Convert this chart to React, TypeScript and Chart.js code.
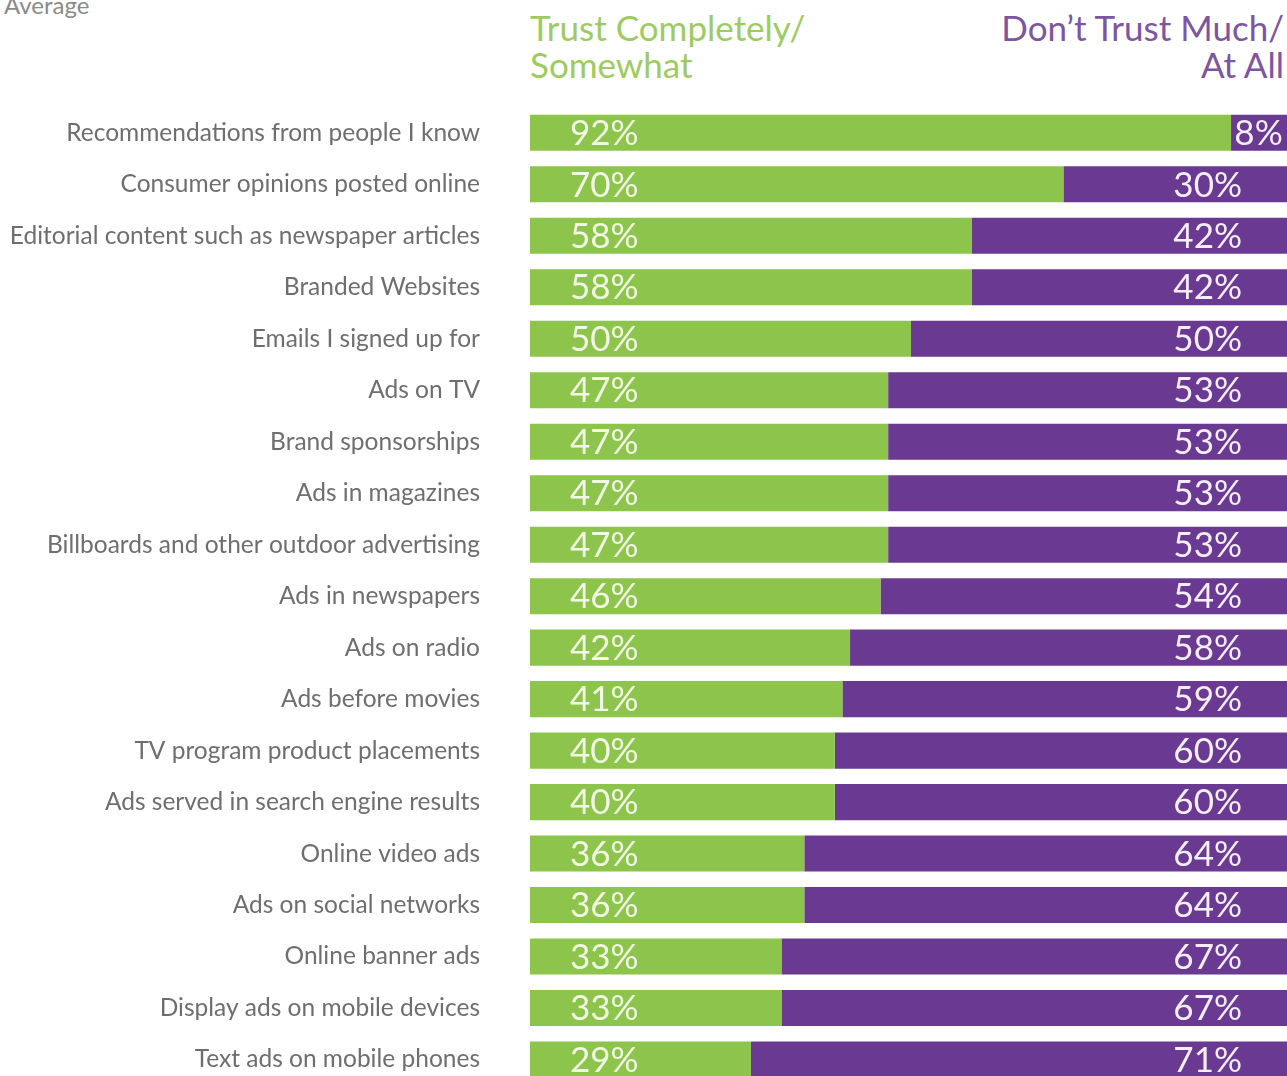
import React, { useEffect, useRef } from "react";
import { Chart, registerables } from "chart.js";

Chart.register(...registerables);

const categories = [
  "Recommendations from people I know",
  "Consumer opinions posted online",
  "Editorial content such as newspaper articles",
  "Branded Websites",
  "Emails I signed up for",
  "Ads on TV",
  "Brand sponsorships",
  "Ads in magazines",
  "Billboards and other outdoor advertising",
  "Ads in newspapers",
  "Ads on radio",
  "Ads before movies",
  "TV program product placements",
  "Ads served in search engine results",
  "Online video ads",
  "Ads on social networks",
  "Online banner ads",
  "Display ads on mobile devices",
  "Text ads on mobile phones",
];

const trustValues = [92, 70, 58, 58, 50, 47, 47, 47, 47, 46, 42, 41, 40, 40, 36, 36, 33, 33, 29];
const distrustValues = [8, 30, 42, 42, 50, 53, 53, 53, 53, 54, 58, 59, 60, 60, 64, 64, 67, 67, 71];

const seriesNames = ["Trust Completely/ Somewhat", "Don\u2019t Trust Much/ At All"];

const GREEN = "#8DC44B";
const PURPLE = "#6A3A92";
const FONT = "Lato, 'Open Sans', sans-serif";

const CANVAS_W = 1292;
const CANVAS_H = 1150;
const LEFT = 530;
const TOP = 107;

const valueLabels = {
  id: "valueLabels",
  afterDatasetsDraw(chart: any) {
    const ctx = chart.ctx;
    ctx.save();
    ctx.font = `400 35px ${FONT}`;
    ctx.fillStyle = "#F2F9E4";
    ctx.textBaseline = "middle";
    chart.getDatasetMeta(0).data.forEach((bar: any, i: number) => {
      ctx.textAlign = "left";
      ctx.fillText(`${trustValues[i]}%`, bar.base + 40, bar.y + 1);
    });
    ctx.fillStyle = "#F4EEF8";
    chart.getDatasetMeta(1).data.forEach((bar: any, i: number) => {
      const txt = `${distrustValues[i]}%`;
      const w = bar.x - bar.base;
      const tw = ctx.measureText(txt).width;
      if (w < tw + 60) {
        ctx.textAlign = "center";
        ctx.fillText(txt, (bar.x + bar.base) / 2 - 3, bar.y + 1);
      } else {
        ctx.textAlign = "right";
        ctx.fillText(txt, bar.x - 50, bar.y + 1);
      }
    });
    ctx.restore();
  },
};

export default function App() {
  const canvasRef = useRef<HTMLCanvasElement | null>(null);

  useEffect(() => {
    const canvas = canvasRef.current;
    if (!canvas) return;
    const chart = new Chart(canvas, {
      type: "bar",
      data: {
        labels: categories,
        datasets: [
          {
            label: seriesNames[0],
            data: trustValues,
            backgroundColor: GREEN,
            borderWidth: 0,
            barPercentage: 1,
            categoryPercentage: 0.7,
          },
          {
            label: seriesNames[1],
            data: distrustValues,
            backgroundColor: PURPLE,
            borderWidth: 0,
            barPercentage: 1,
            categoryPercentage: 0.7,
          },
        ],
      },
      options: {
        indexAxis: "y",
        responsive: true,
        maintainAspectRatio: false,
        animation: false,
        layout: { padding: { top: TOP, right: 0, bottom: 0, left: 0 } },
        plugins: {
          legend: { display: false },
          tooltip: { enabled: false },
          title: { display: false },
        },
        scales: {
          x: {
            stacked: true,
            min: 0,
            max: 100,
            display: false,
          },
          y: {
            stacked: true,
            grid: { display: false, drawTicks: false },
            border: { display: false },
            ticks: {
              color: "#6E6E6E",
              font: { family: FONT, size: 24.5 },
              padding: 50,
              autoSkip: false,
            },
            afterFit(scale: any) {
              scale.width = LEFT;
            },
          },
        },
      },
      plugins: [valueLabels],
    });
    return () => chart.destroy();
  }, []);

  const headerStyle: React.CSSProperties = {
    position: "absolute",
    top: 9,
    fontFamily: FONT,
    fontSize: 35,
    lineHeight: "37px",
    whiteSpace: "nowrap",
  };

  return (
    <div
      style={{
        position: "absolute",
        top: 0,
        left: 0,
        width: 1287,
        height: 1076,
        overflow: "hidden",
        background: "#ffffff",
      }}
    >
      <div
        style={{
          position: "absolute",
          top: -10,
          left: 4,
          fontFamily: FONT,
          fontSize: 24,
          color: "#8a8a8a",
        }}
      >
        Average
      </div>
      <div style={{ ...headerStyle, left: 530, color: "#9DCB62" }}>
        Trust Completely/
        <br />
        Somewhat
      </div>
      <div style={{ ...headerStyle, right: 3, textAlign: "right", color: "#7D55A0" }}>
        Don{"\u2019"}t Trust Much/
        <br />
        At All
      </div>
      <div
        style={{ position: "absolute", top: 0, left: 0, width: CANVAS_W, height: CANVAS_H }}
      >
        <canvas ref={canvasRef} />
      </div>
    </div>
  );
}
